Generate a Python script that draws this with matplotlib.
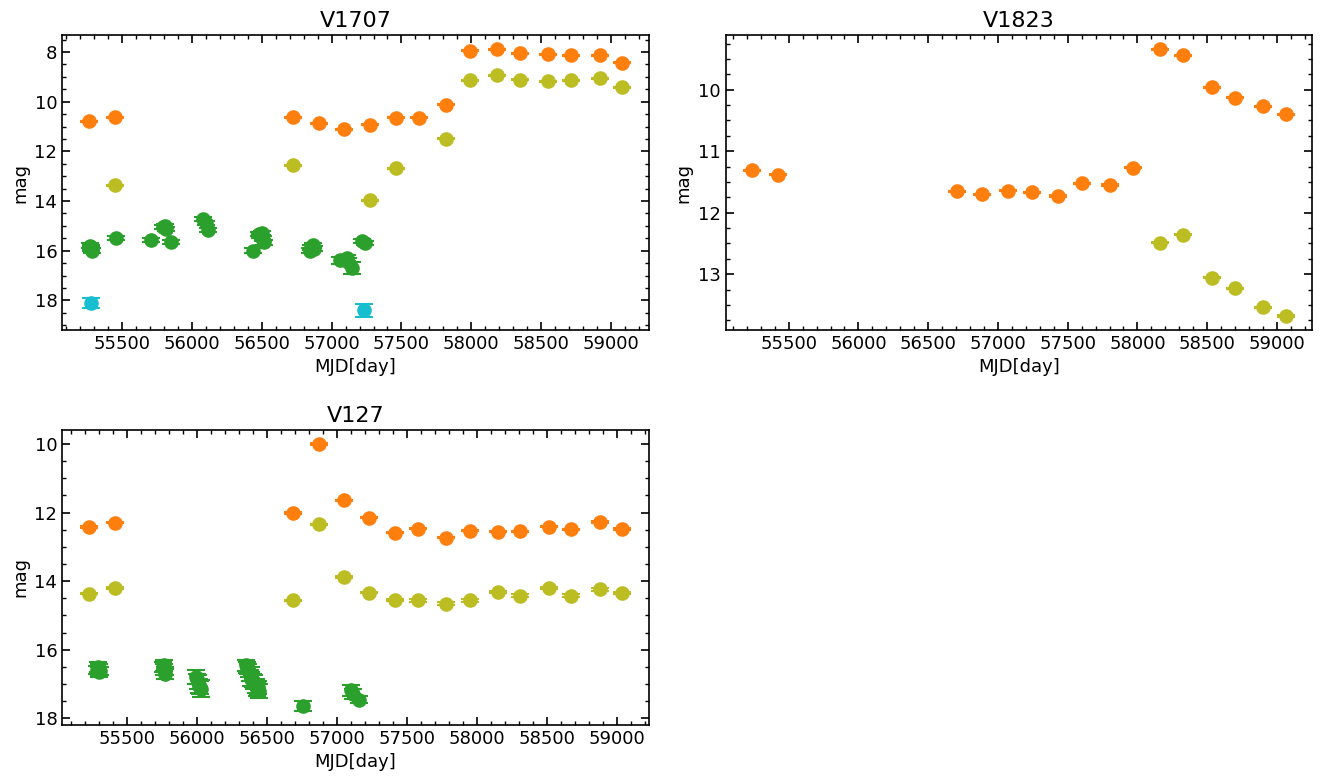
import matplotlib
matplotlib.use('Agg')
import matplotlib.pyplot as plt
from matplotlib.ticker import AutoMinorLocator
import numpy as np

# colours for the bands
c_w1 = 'tab:orange'
c_w2 = 'tab:olive'
c_g = 'tab:green'
c_c = 'tab:cyan'

# ---- V1707 ----
v1707_w1_t = [55261, 55448, 56726, 56908, 57090, 57274, 57460, 57624, 57821, 57993, 58186, 58350, 58550, 58712, 58919, 59081]
v1707_w1_m = [10.79, 10.62, 10.62, 10.86, 11.10, 10.93, 10.64, 10.64, 10.13, 7.95, 7.88, 8.04, 8.09, 8.12, 8.12, 8.44]
v1707_w1_e = [0.02] * 16
v1707_w2_t = [55448, 56726, 57274, 57460, 57821, 57993, 58186, 58350, 58550, 58712, 58919, 59081]
v1707_w2_m = [13.37, 12.56, 13.97, 12.68, 11.49, 9.14, 8.94, 9.11, 9.18, 9.14, 9.05, 9.41]
v1707_w2_e = [0.02] * 12
v1707_g_t = [55272, 55275, 55278, 55282, 55452, 55703, 55795, 55803, 55812, 55851,
             56077, 56101, 56113, 56440, 56478, 56486, 56500, 56507, 56512,
             56845, 56853, 56865, 56877, 57060, 57107, 57119, 57143, 57214, 57238]
v1707_g_m = [15.80, 15.86, 15.92, 16.00, 15.48, 15.58, 15.05, 15.02, 15.12, 15.65,
             14.71, 14.89, 15.18, 15.99, 15.32, 15.40, 15.30, 15.52, 15.65,
             16.00, 15.85, 15.78, 15.92, 16.39, 16.28, 16.46, 16.68, 15.61, 15.69]
v1707_g_e = [0.10, 0.10, 0.10, 0.10, 0.08, 0.08, 0.08, 0.08, 0.08, 0.08,
             0.08, 0.08, 0.08, 0.10, 0.08, 0.08, 0.08, 0.10, 0.10,
             0.10, 0.10, 0.10, 0.10, 0.15, 0.12, 0.15, 0.24, 0.08, 0.08]
v1707_c_t = [55278, 57233]
v1707_c_m = [18.11, 18.40]
v1707_c_e = [0.20, 0.25]

# ---- V1823 ----
v1823_w1_t = [55240, 55422, 56707, 56885, 57069, 57244, 57434, 57606, 57802, 57968, 58164, 58324, 58532, 58696, 58898, 59063]
v1823_w1_m = [11.31, 11.38, 11.65, 11.70, 11.64, 11.67, 11.73, 11.52, 11.55, 11.27, 9.34, 9.44, 9.96, 10.13, 10.27, 10.40]
v1823_w1_e = [0.01] * 16
v1823_w2_t = [58164, 58324, 58532, 58696, 58898, 59063]
v1823_w2_m = [12.49, 12.36, 13.06, 13.23, 13.54, 13.68]
v1823_w2_e = [0.01] * 6

# ---- V127 ----
v127_w1_t = [55229, 55414, 56690, 56876, 57055, 57233, 57419, 57583, 57781, 57952, 58150, 58310, 58514, 58674, 58879, 59040]
v127_w1_m = [12.42, 12.29, 12.01, 10.00, 11.64, 12.15, 12.59, 12.47, 12.73, 12.53, 12.56, 12.55, 12.41, 12.49, 12.27, 12.48]
v127_w1_e = [0.02] * 16
v127_w2_t = [55229, 55414, 56690, 56876, 57055, 57233, 57419, 57583, 57781, 57952, 58150, 58310, 58514, 58674, 58879, 59040]
v127_w2_m = [14.37, 14.20, 14.56, 12.34, 13.88, 14.34, 14.54, 14.56, 14.66, 14.56, 14.31, 14.42, 14.20, 14.42, 14.24, 14.35]
v127_w2_e = [0.02, 0.02, 0.02, 0.02, 0.02, 0.02, 0.03, 0.04, 0.04, 0.04, 0.03, 0.03, 0.04, 0.03, 0.04, 0.03]
v127_g_t = [55290, 55296, 55300, 55304, 55308, 55762, 55766, 55769, 55772, 55776,
            55995, 56000, 56007, 56015, 56022, 56031,
            56352, 56358, 56364, 56372, 56380, 56386, 56390, 56400, 56410, 56420, 56430, 56440, 56445,
            56757, 57103, 57115, 57162]
v127_g_m = [16.60, 16.51, 16.58, 16.66, 16.62, 16.50, 16.46, 16.58, 16.70, 16.62,
            16.80, 16.85, 16.95, 17.05, 17.10, 17.14,
            16.46, 16.52, 16.56, 16.66, 16.75, 16.70, 16.85, 16.90, 16.95, 17.05, 17.15, 17.10, 17.20,
            17.65, 17.19, 17.29, 17.46]
v127_g_e = [0.12, 0.15, 0.15, 0.15, 0.12, 0.15, 0.15, 0.15, 0.15, 0.12,
            0.2, 0.15, 0.2, 0.2, 0.2, 0.25,
            0.15, 0.15, 0.15, 0.15, 0.15, 0.2, 0.2, 0.2, 0.2, 0.2, 0.2, 0.2, 0.2,
            0.15, 0.15, 0.15, 0.1]


def band(ax, t, m, e, color):
    ax.errorbar(t, m, yerr=e, fmt='o', color=color, ms=9.5, capsize=6.5, elinewidth=1.5, capthick=1.5)


def style(ax, title):
    ax.invert_yaxis()
    ax.set_title(title, fontsize=16)
    ax.set_xlabel('MJD[day]', fontsize=13)
    ax.set_ylabel('mag', fontsize=13)
    ax.set_xticks([55500, 56000, 56500, 57000, 57500, 58000, 58500, 59000])
    ax.xaxis.set_minor_locator(AutoMinorLocator(5))
    ax.yaxis.set_minor_locator(AutoMinorLocator(4))
    ax.tick_params(which='both', direction='in', top=True, right=True, labelsize=13)
    ax.tick_params(which='major', length=6, width=1.2)
    ax.tick_params(which='minor', length=3, width=1)
    for s in ax.spines.values():
        s.set_linewidth(1.2)


fig, axs = plt.subplots(2, 2, figsize=(13.23, 7.81), dpi=100)
plt.subplots_adjust(left=0.047, right=0.992, top=0.955, bottom=0.072, wspace=0.131, hspace=0.339)

ax = axs[0, 0]
band(ax, v1707_g_t, v1707_g_m, v1707_g_e, c_g)
band(ax, v1707_c_t, v1707_c_m, v1707_c_e, c_c)
band(ax, v1707_w1_t, v1707_w1_m, v1707_w1_e, c_w1)
band(ax, v1707_w2_t, v1707_w2_m, v1707_w2_e, c_w2)
style(ax, 'V1707')

ax = axs[0, 1]
band(ax, v1823_w1_t, v1823_w1_m, v1823_w1_e, c_w1)
band(ax, v1823_w2_t, v1823_w2_m, v1823_w2_e, c_w2)
style(ax, 'V1823')

ax = axs[1, 0]
band(ax, v127_g_t, v127_g_m, v127_g_e, c_g)
band(ax, v127_w1_t, v127_w1_m, v127_w1_e, c_w1)
band(ax, v127_w2_t, v127_w2_m, v127_w2_e, c_w2)
style(ax, 'V127')

axs[1, 1].axis('off')

plt.savefig('out.png', dpi=100)
